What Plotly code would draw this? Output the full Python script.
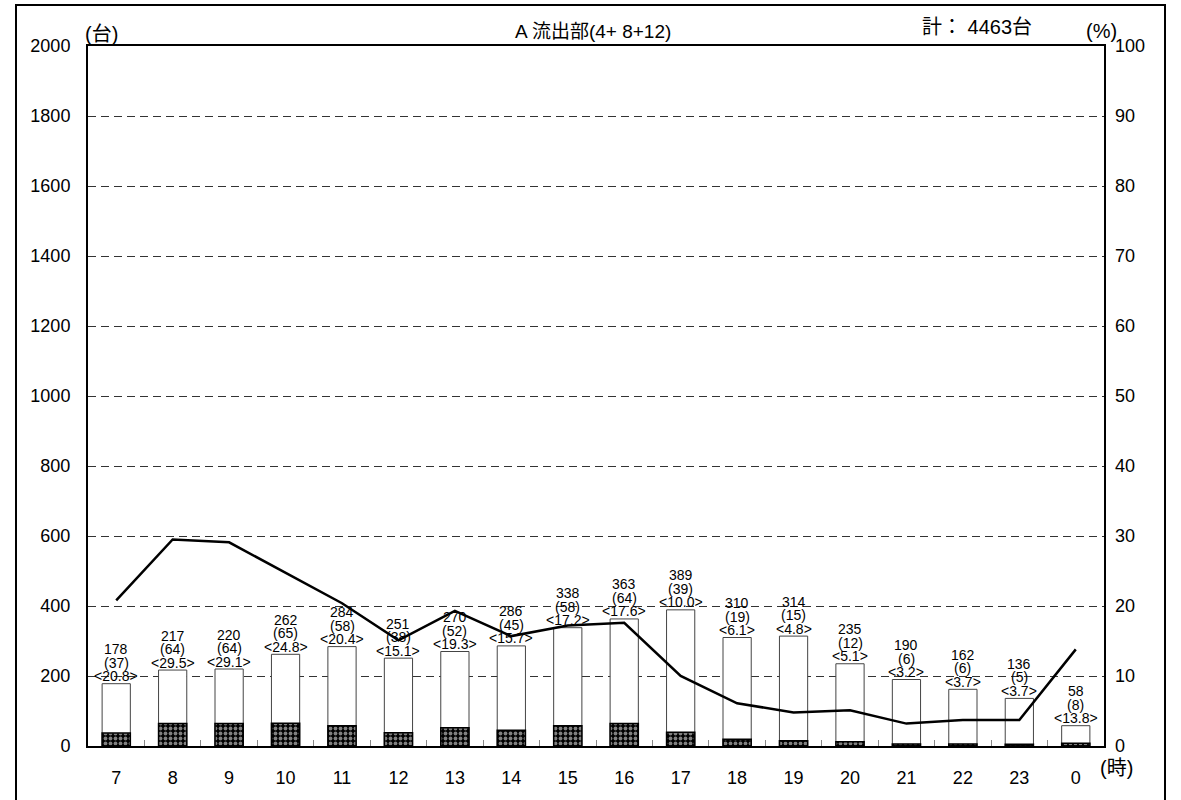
import plotly.graph_objects as go

hours = ["7", "8", "9", "10", "11", "12", "13", "14", "15", "16", "17", "18", "19", "20", "21", "22", "23", "0"]
total = [178, 217, 220, 262, 284, 251, 270, 286, 338, 363, 389, 310, 314, 235, 190, 162, 136, 58]
large = [37, 64, 64, 65, 58, 38, 52, 45, 58, 64, 39, 19, 15, 12, 6, 6, 5, 8]
ratio = [20.8, 29.5, 29.1, 24.8, 20.4, 15.1, 19.3, 15.7, 17.2, 17.6, 10.0, 6.1, 4.8, 5.1, 3.2, 3.7, 3.7, 13.8]
title_text = "A 流出部(4+ 8+12)"
sum_text = "計：&nbsp;4463台"

W, H = 1181, 800
L, R, T, B = 88, 1104, 46, 748
FONT = "Liberation Sans, Arial, Noto Sans CJK JP"

def px(x):
    return (x - L) / (R - L)

def py(y):
    return (B - y) / (B - T)

fig = go.Figure()
fig.add_trace(go.Bar(x=hours, y=total, marker=dict(color="white", line=dict(color="#444", width=1)),
                     width=0.5, showlegend=False))
fig.add_trace(go.Bar(x=hours, y=large, marker=dict(color="black", line=dict(color="black", width=1.5),
                     pattern=dict(shape=".", fgcolor="white", bgcolor="black", size=5, solidity=0.45)),
                     width=0.5, showlegend=False))
fig.add_trace(go.Scatter(x=hours, y=ratio, yaxis="y2", mode="lines",
                         line=dict(color="black", width=2.5), showlegend=False))

ann = []
for i, (t, l, r) in enumerate(zip(total, large, ratio)):
    for txt, sh in ((f"{t}", 34.5), (f"({l})", 21), (f"&lt;{r:.1f}&gt;", 7.5)):
        ann.append(dict(x=i, y=t, xref="x", yref="y", text=txt, showarrow=False,
                        yanchor="middle", yshift=sh, font=dict(size=14, color="black", family=FONT),
                        borderpad=0))

def padd(text, x, y, size, xanchor="center"):
    ann.append(dict(x=px(x), y=py(y), xref="paper", yref="paper", text=text, showarrow=False,
                    xanchor=xanchor, yanchor="middle", font=dict(size=size, color="black", family=FONT)))

padd(title_text, 593, 31, 19)
padd(sum_text, 977, 27, 20)
padd("(台)", 101, 34, 20)
padd("(%)", 1101, 31, 20)
padd("(時)", 1116, 770, 20)

shapes = [dict(type="rect", xref="paper", yref="paper", x0=px(16), x1=px(1165), y0=py(810), y1=py(5),
               line=dict(color="black", width=2), layer="below")]

fig.update_layout(
    width=W, height=H, margin=dict(l=L, r=W - R, t=T, b=H - B),
    paper_bgcolor="white", plot_bgcolor="white", barmode="overlay",
    font=dict(family=FONT, size=18, color="black"),
    annotations=ann, shapes=shapes,
    xaxis=dict(type="category", showline=True, linecolor="black", linewidth=2, mirror=True,
               ticks="inside", tickson="boundaries", ticklen=6, tickcolor="#888", tickwidth=1,
               showgrid=False, tickfont=dict(size=18), ticklabelstandoff=14),
    yaxis=dict(range=[0, 2000], dtick=200, showline=True, linecolor="black", linewidth=2, mirror=True,
               showgrid=True, gridcolor="#333", griddash="8px,5px", gridwidth=1, zeroline=False,
               ticks="", tickfont=dict(size=18), ticklabelstandoff=12),
    yaxis2=dict(range=[0, 100], dtick=10, overlaying="y", side="right", showgrid=False, zeroline=False,
                showline=False, ticks="", tickfont=dict(size=18), ticklabelstandoff=10),
)

fig.write_html("out.html", config={"displayModeBar": False},
               post_script="document.body.style.margin='0';")
